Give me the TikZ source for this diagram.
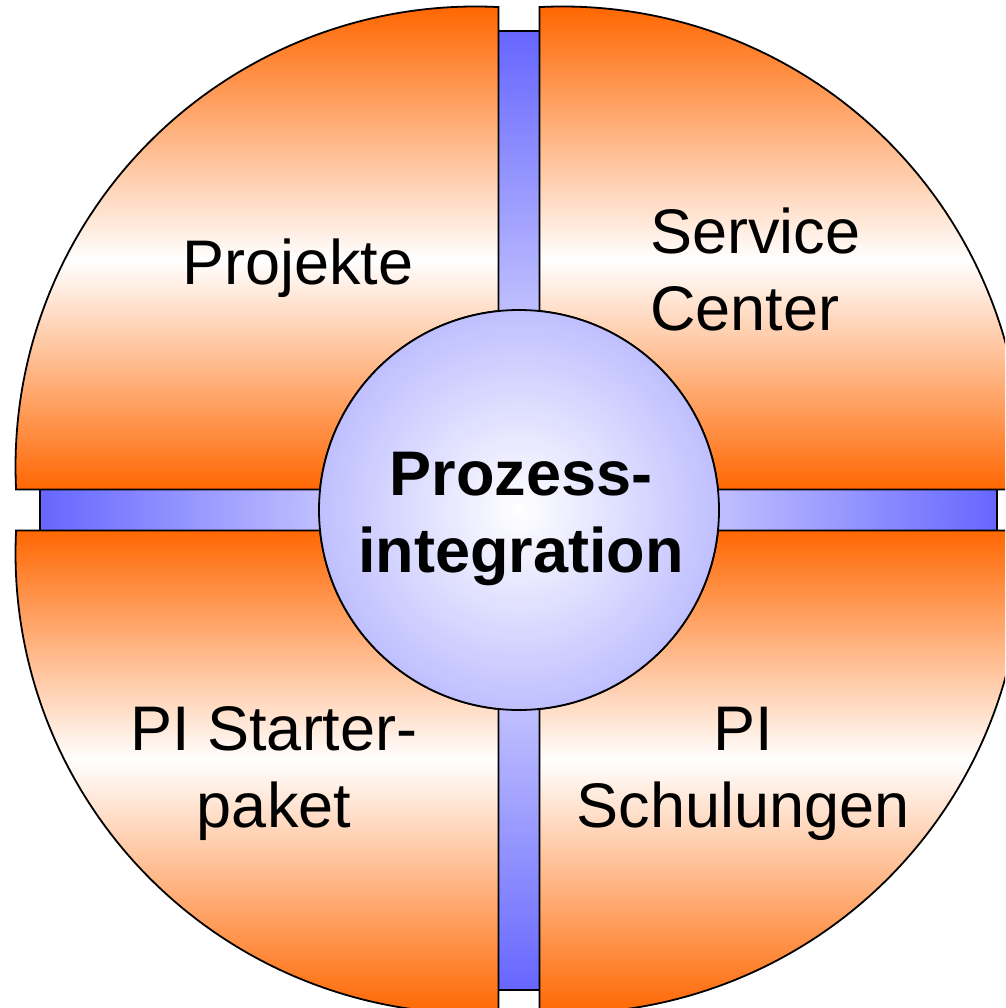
\documentclass[tikz,border=0pt]{standalone}
\usepackage{fontspec}
\setmainfont{Liberation Sans}
\definecolor{piorange}{HTML}{FF6600}
\definecolor{piblue}{HTML}{6666FF}
\definecolor{pilav}{HTML}{BFBFFF}
\newcommand\qTL{(498.5,7.08) arc[start angle=-87.134, end angle=-182.866, radius=460] -- (320.05,489.5) arc[start angle=-174.117, end angle=-95.883, radius=200] -- cycle}
\newcommand\qTR{(539.5,7.08) arc[start angle=-92.866, end angle=2.866, radius=460] -- (717.95,489.5) arc[start angle=-5.883, end angle=-84.117, radius=200] -- cycle}
\newcommand\qBL{(498.5,1012.92) arc[start angle=87.134, end angle=182.866, radius=460] -- (320.05,530.5) arc[start angle=174.117, end angle=95.883, radius=200] -- cycle}
\newcommand\qBR{(539.5,1012.92) arc[start angle=92.866, end angle=-2.866, radius=460] -- (717.95,530.5) arc[start angle=5.883, end angle=84.117, radius=200] -- cycle}
\newcommand\ctwo[2]{\vtop{\halign{\hfil##\hfil\cr#1\cr#2\cr}}}
\newcommand\ltwo[2]{\vtop{\halign{##\hfil\cr#1\cr#2\cr}}}
\tikzset{
  outline/.style={draw=black, line width=1.8pt, line join=miter},
  lbl/.style={inner sep=0pt, anchor=base, text=black, font=\fontsize{63}{77}\selectfont},
}
\begin{document}
\begin{tikzpicture}[x=1pt,y=-1pt]
\useasboundingbox (0,0) rectangle (1005,1008);
\clip (0,0) rectangle (1005,1008);
% blue cross
\shadedraw[outline, inner color=white, outer color=piblue]
  (498.5,31) -- (539.5,31) -- (539.5,489.5) -- (997,489.5) -- (997,530.5)
  -- (539.5,530.5) -- (539.5,990) -- (498.5,990) -- (498.5,530.5)
  -- (40,530.5) -- (40,489.5) -- (498.5,489.5) -- cycle;
% upper quadrants
\begin{scope}
  \clip \qTL \qTR;
  \shade[top color=piorange, bottom color=white] (0,5) rectangle (1030,260);
  \shade[top color=white, bottom color=piorange] (0,260) rectangle (1030,492);
\end{scope}
% lower quadrants
\begin{scope}
  \clip \qBL \qBR;
  \shade[top color=piorange, bottom color=white] (0,528) rectangle (1030,760);
  \shade[top color=white, bottom color=piorange] (0,760) rectangle (1030,1015);
\end{scope}
\draw[outline] \qTL;
\draw[outline] \qTR;
\draw[outline] \qBL;
\draw[outline] \qBR;
% centre
\node[circle, minimum size=400pt, inner sep=0pt, outline, shade, inner color=white, outer color=pilav] (core) at (519,510) {};
\node[lbl, font=\bfseries\fontsize{63}{77}\selectfont] (coretext) at (521,495) {\ctwo{Prozess-}{integration}};
\node[lbl] (projekte) at (298,284) {Projekte};
\node[lbl, anchor=base west] (service) at (650,253) {\ltwo{Service}{Center}};
\node[lbl] (starter) at (274,750) {\ctwo{PI Starter-}{paket}};
\node[lbl] (schulungen) at (743,750) {\ctwo{PI}{Schulungen}};
\end{tikzpicture}
\end{document}
